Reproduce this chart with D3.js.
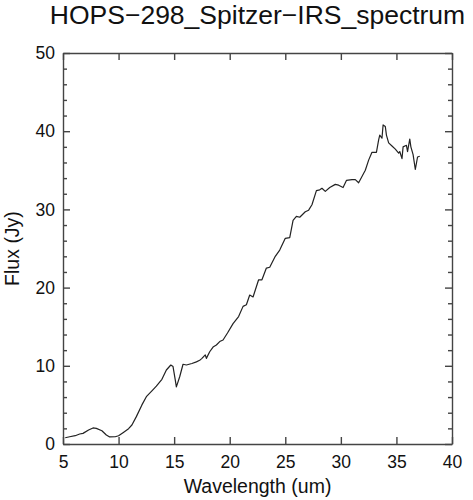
<!DOCTYPE html>
<html>
<head>
<meta charset="utf-8">
<script src="https://cdn.jsdelivr.net/npm/d3@7"></script>
<style>
  body { margin: 0; background: #fff; }
  text { font-family: "Liberation Sans", Arial, Helvetica, sans-serif; fill: #111; }
</style>
</head>
<body>
<div id="chart"></div>
<script>
// spectrum
let wavelength = [5.2, 5.6, 6.1, 6.5, 6.8, 7.3, 7.7, 8.0, 8.5, 8.9, 9.2, 9.7, 10.0, 10.4, 10.9, 11.2,
    11.6, 12.1, 12.5, 13.0, 13.4, 13.9, 14.3, 14.7, 14.9, 15.1, 15.2, 15.5, 15.8, 16.1, 16.6, 17.0,
    17.3, 17.5, 17.8, 17.9, 18.2, 18.5, 18.8, 19.1, 19.4, 19.8, 20.3, 20.8, 21.2, 21.5, 21.8, 22.1,
    22.6, 22.9, 23.3, 23.6, 24.1, 24.5, 25.0, 25.4, 25.7, 26.0, 26.3, 26.8, 27.1, 27.4, 27.8, 28.1,
    28.3, 28.6, 29.0, 29.5, 29.8, 30.2, 30.5, 31.0, 31.3, 31.6, 31.9, 32.2, 32.5, 32.8, 33.2, 33.4,
    33.5, 33.7, 33.8, 34.0, 34.1, 34.3, 34.6, 34.9, 35.2, 35.3, 35.5, 35.6, 35.9, 36.0, 36.2, 36.3,
    36.5, 36.7, 36.9, 37.1];
let flux = [0.8, 0.93, 1.06, 1.28, 1.36, 1.79, 2.05, 2.0, 1.7, 1.15, 0.9, 0.93, 1.06, 1.45, 1.96, 2.43,
    3.5, 5.0, 6.05, 6.8, 7.4, 8.27, 9.46, 10.1, 9.9, 8.2, 7.3, 8.6, 10.2, 10.1, 10.3, 10.5,
    10.7, 10.95, 11.4, 10.95, 11.8, 12.4, 12.66, 13.1, 13.3, 14.2, 15.4, 16.3, 17.6, 17.8, 19.05, 18.8,
    21.0, 21.0, 22.5, 22.6, 24.0, 24.8, 26.3, 26.4, 28.6, 29.1, 29.0, 29.7, 29.9, 30.6, 32.4, 32.5,
    32.7, 32.3, 32.8, 33.2, 33.1, 32.8, 33.7, 33.8, 33.8, 33.4, 34.2, 35.0, 36.3, 37.3, 37.3, 38.9,
    39.5, 39.1, 40.8, 40.6, 39.5, 38.5, 38.1, 37.7, 37.2, 37.4, 36.5, 38.0, 38.2, 37.4, 39.0, 38.0,
    37.0, 35.1, 36.7, 36.8];

let xTicks = [5, 10, 15, 20, 25, 30, 35, 40];
let yTicks = [0, 10, 20, 30, 40, 50];
let yMinorTicks = [2, 4, 6, 8, 12, 14, 16, 18, 22, 24, 26, 28, 32, 34, 36, 38, 42, 44, 46, 48];

let chartTitle = "HOPS\u2212298_Spitzer\u2212IRS_spectrum";
let xTitle = "Wavelength (um)";
let yTitle = "Flux (Jy)";

let W = 473, H = 500;
let margin = {top: 53, right: 21, bottom: 56, left: 63};
let width = W - margin.left - margin.right;
let height = H - margin.top - margin.bottom;

let svg = d3.select("#chart")
    .append("svg")
        .attr("width", W)
        .attr("height", H)
    .append("g")
        .attr("transform", "translate(" + margin.left + "," + margin.top + ")");

let x = d3.scaleLinear().domain([5, 40]).range([0, width]);
let y = d3.scaleLinear().domain([0, 50]).range([height, 0]);

let axisColor = "#444";
function styleAxis(g) {
    g.selectAll("path, line").attr("stroke", axisColor).attr("stroke-width", 1.4);
    g.selectAll("text").attr("fill", "#111").style("font-size", null);
}

// bottom and left with labels, ticks pointing inward
svg.append("g")
    .attr("transform", "translate(0," + height + ")")
    .call(d3.axisBottom(x).tickValues(xTicks).tickSizeInner(-7).tickSizeOuter(0).tickPadding(12))
    .call(styleAxis)
    .selectAll("text").style("font-size", "17.5px");

svg.append("g")
    .call(d3.axisLeft(y).tickValues(yTicks).tickSizeInner(-7).tickSizeOuter(0).tickPadding(8))
    .call(styleAxis)
    .selectAll("text").style("font-size", "17.5px");

svg.append("g")
    .call(d3.axisLeft(y).tickValues(yMinorTicks).tickSize(-4).tickFormat(""))
    .call(styleAxis)
    .select(".domain").remove();

// top and right, ticks only
svg.append("g")
    .call(d3.axisTop(x).tickValues(xTicks).tickSizeInner(-7).tickSizeOuter(0).tickFormat(""))
    .call(styleAxis);

svg.append("g")
    .attr("transform", "translate(" + width + ",0)")
    .call(d3.axisRight(y).tickValues(yTicks).tickSizeInner(-7).tickSizeOuter(0).tickFormat(""))
    .call(styleAxis);

svg.append("g")
    .attr("transform", "translate(" + width + ",0)")
    .call(d3.axisRight(y).tickValues(yMinorTicks).tickSize(-4).tickFormat(""))
    .call(styleAxis)
    .select(".domain").remove();

// spectrum line
let line = d3.line()
    .x((d, i) => x(wavelength[i]))
    .y(d => y(d));

svg.append("path")
    .datum(flux)
    .attr("fill", "none")
    .attr("stroke", "#222")
    .attr("stroke-width", 1.2)
    .attr("stroke-linejoin", "round")
    .attr("d", line);

// labels
svg.append("text")
    .attr("x", width / 2)
    .attr("y", -29.5)
    .attr("text-anchor", "middle")
    .style("font-size", "26.5px")
    .text(chartTitle);

svg.append("text")
    .attr("x", width / 2)
    .attr("y", height + 49)
    .attr("text-anchor", "middle")
    .style("font-size", "19.5px")
    .text(xTitle);

svg.append("text")
    .attr("transform", "translate(" + (-44.5) + "," + (height / 2) + ") rotate(-90)")
    .attr("text-anchor", "middle")
    .style("font-size", "19.5px")
    .text(yTitle);
</script>
</body>
</html>
